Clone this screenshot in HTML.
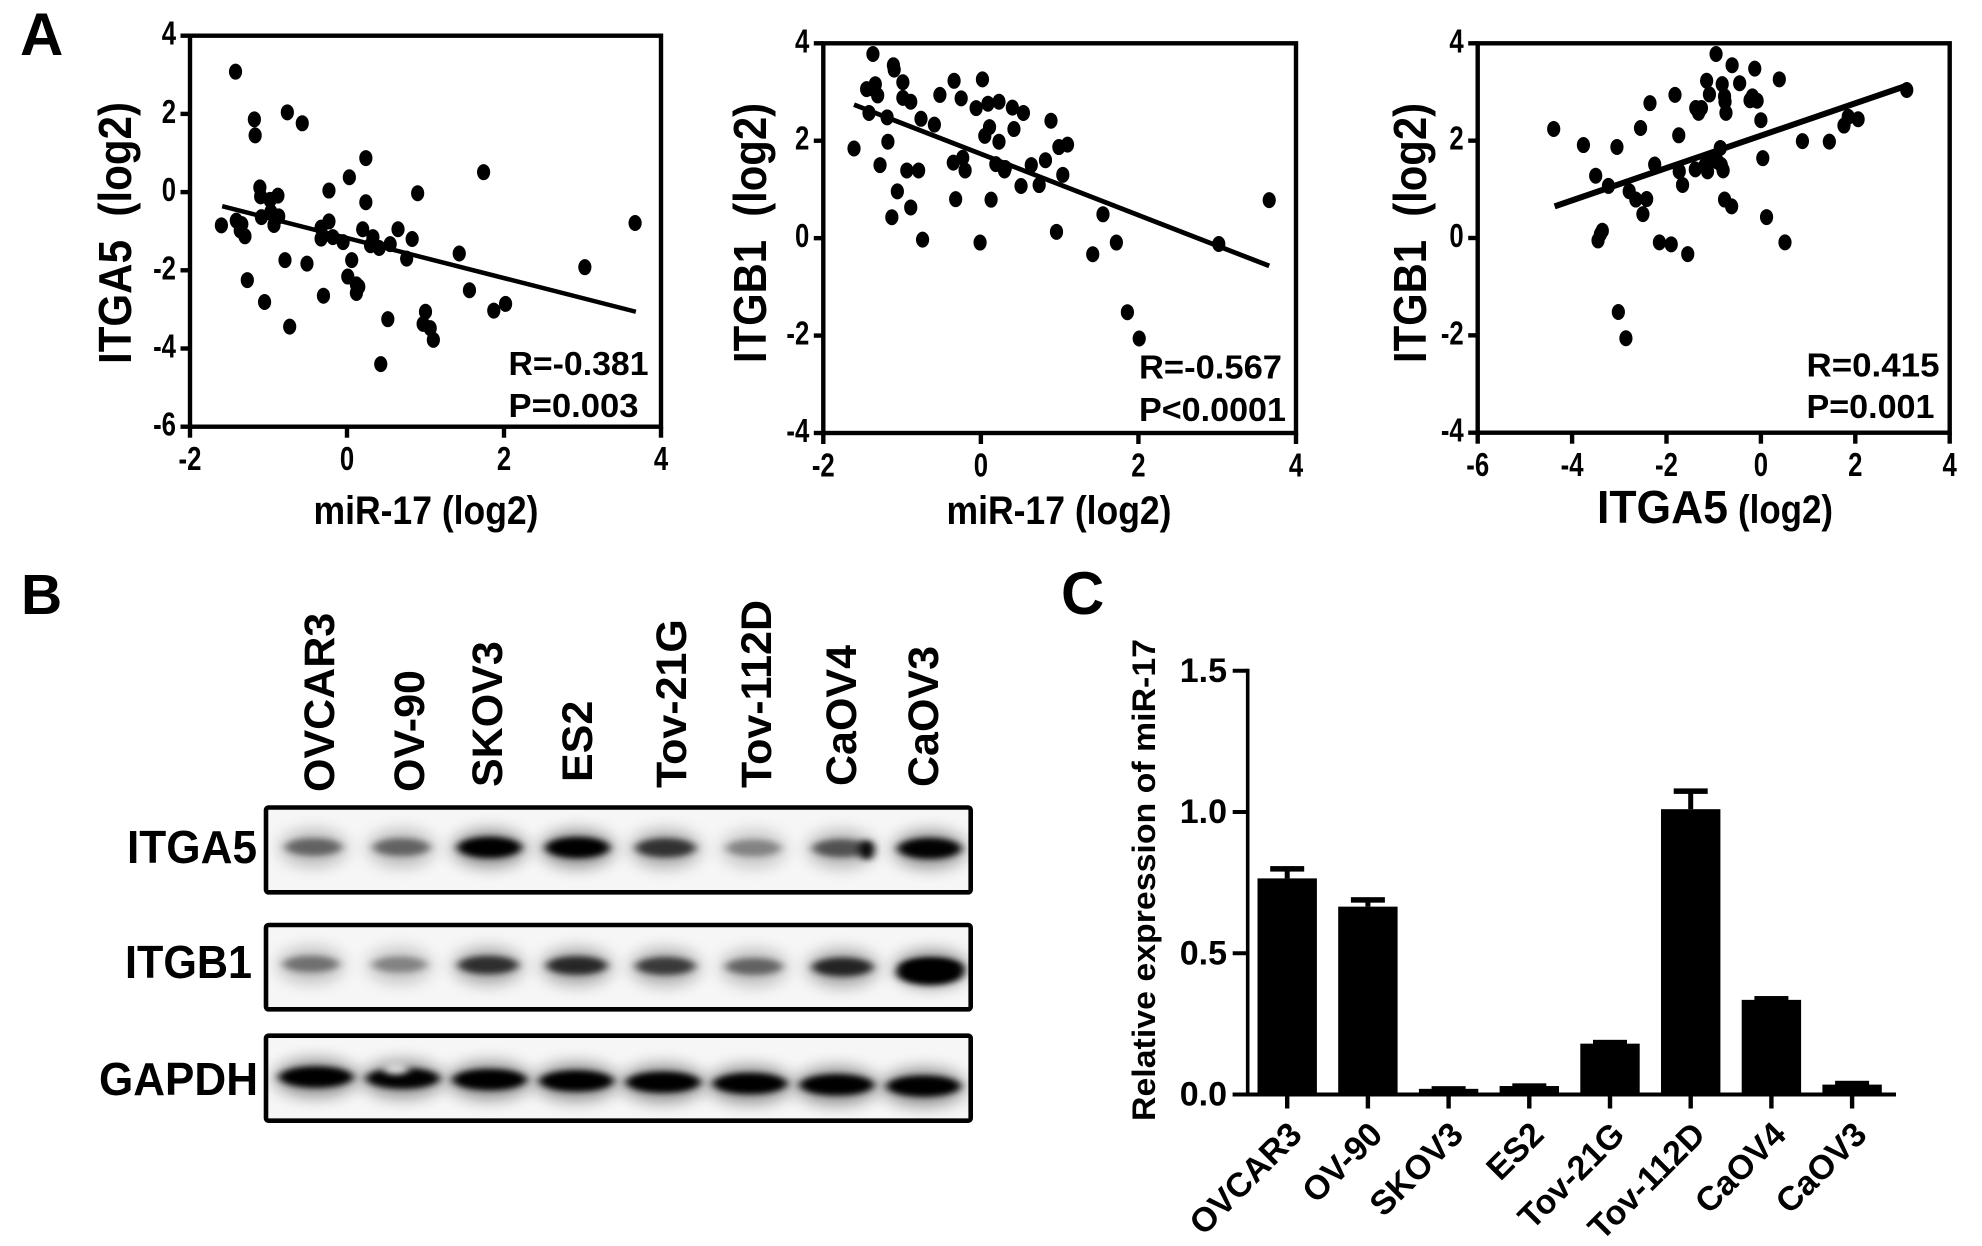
<!DOCTYPE html>
<html lang="en">
<head>
<meta charset="utf-8">
<title>Correlation of miR-17, ITGA5 and ITGB1 in ovarian cancer cell lines</title>
<style>
html,body{margin:0;padding:0;background:#fff;width:1982px;height:1246px;overflow:hidden}
svg{display:block;font-family:"Liberation Sans",Arial,sans-serif;font-weight:bold;fill:#000}
</style>
</head>
<body>
<svg id="fig" width="1982" height="1246" viewBox="0 0 1982 1246" xmlns="http://www.w3.org/2000/svg">
  <defs>
    <filter id="blurCore" x="-50%" y="-100%" width="200%" height="300%"><feGaussianBlur stdDeviation="4.5 3"/></filter>
    <filter id="blurHalo" x="-50%" y="-150%" width="200%" height="400%"><feGaussianBlur stdDeviation="9 8"/></filter>
    <clipPath id="clipA"><rect x="268" y="809" width="701" height="82"/></clipPath>
    <clipPath id="clipB"><rect x="268" y="927" width="701" height="80"/></clipPath>
    <clipPath id="clipC"><rect x="268" y="1038" width="701" height="81"/></clipPath>
  </defs>

  <text x="20" y="55" font-size="60">A</text>
  <text x="21" y="614" font-size="57">B</text>
  <text x="1061" y="614" font-size="60">C</text>

  <g id="scatter1"></g>
  <g id="scatter2"></g>
  <g id="scatter3"></g>

  <text transform="translate(131,233) rotate(-90)" text-anchor="middle" font-size="46" textLength="262" lengthAdjust="spacingAndGlyphs" xml:space="preserve">ITGA5  (log2)</text>
  <text x="426" y="524" text-anchor="middle" font-size="40" textLength="225" lengthAdjust="spacingAndGlyphs">miR-17 (log2)</text>
  <text x="508.5" y="375" font-size="33.5" textLength="140" lengthAdjust="spacingAndGlyphs">R=-0.381</text>
  <text x="508.5" y="417" font-size="33.5" textLength="130" lengthAdjust="spacingAndGlyphs">P=0.003</text>

  <text transform="translate(766,233) rotate(-90)" text-anchor="middle" font-size="46" textLength="260" lengthAdjust="spacingAndGlyphs" xml:space="preserve">ITGB1  (log2)</text>
  <text x="1059" y="524" text-anchor="middle" font-size="40" textLength="225" lengthAdjust="spacingAndGlyphs">miR-17 (log2)</text>
  <text x="1139" y="378.5" font-size="33.5" textLength="143" lengthAdjust="spacingAndGlyphs">R=-0.567</text>
  <text x="1139" y="421" font-size="33.5" textLength="147" lengthAdjust="spacingAndGlyphs">P&lt;0.0001</text>

  <text transform="translate(1426,233) rotate(-90)" text-anchor="middle" font-size="46" textLength="260" lengthAdjust="spacingAndGlyphs" xml:space="preserve">ITGB1  (log2)</text>
  <text x="1597" y="523" font-size="46" textLength="131" lengthAdjust="spacingAndGlyphs">ITGA5</text>
  <text x="1738" y="523" font-size="40" textLength="95" lengthAdjust="spacingAndGlyphs">(log2)</text>
  <text x="1806.5" y="376.7" font-size="33.5" textLength="133" lengthAdjust="spacingAndGlyphs">R=0.415</text>
  <text x="1806.5" y="418" font-size="33.5" textLength="128" lengthAdjust="spacingAndGlyphs">P=0.001</text>

  <g font-size="43">
    <text transform="translate(334,792) rotate(-90)">OVCAR3</text>
    <text transform="translate(424,792) rotate(-90)">OV-90</text>
    <text transform="translate(502,787) rotate(-90)">SKOV3</text>
    <text transform="translate(592,782) rotate(-90)">ES2</text>
    <text transform="translate(686,788) rotate(-90)">Tov-21G</text>
    <text transform="translate(771,788) rotate(-90)">Tov-112D</text>
    <text transform="translate(856,786) rotate(-90)">CaOV4</text>
    <text transform="translate(938,787) rotate(-90)">CaOV3</text>
  </g>

  <g id="blots"></g>
  <text x="127" y="863" font-size="46" textLength="130" lengthAdjust="spacingAndGlyphs">ITGA5</text>
  <text x="125" y="978" font-size="46" textLength="127" lengthAdjust="spacingAndGlyphs">ITGB1</text>
  <text x="99" y="1095" font-size="46" textLength="159" lengthAdjust="spacingAndGlyphs">GAPDH</text>

  <g id="barChart"></g>
  <text transform="translate(1155,880) rotate(-90)" text-anchor="middle" font-size="32" textLength="482" lengthAdjust="spacingAndGlyphs">Relative expression of miR-17</text>
</svg>

<script>
// ---------- Panel A data ----------
const s1X = [-1.42,-1.18,-1.17,-0.76,-0.57,0.24,0.03,-0.23,0.24,0.90,1.74,3.67,3.03,-1.11,-1.10,-0.88,-0.98,-1.09,-0.97,-0.87,-0.93,-1.60,-1.41,-1.34,-1.36,-1.30,-0.79,-0.51,-1.27,-1.05,-0.73,-0.30,-0.33,-0.23,-0.33,-0.18,-0.05,0.20,0.33,0.30,0.41,0.55,0.65,0.83,0.76,0.06,0.01,0.12,0.15,0.12,0.52,0.43,1.00,0.97,1.06,1.10,1.43,1.56,1.87,2.02];
const s1Y = [3.08,1.86,1.45,2.04,1.76,0.87,0.38,0.04,-0.26,-0.03,0.51,-0.79,-1.92,0.12,-0.11,-0.09,-0.20,-0.64,-0.51,-0.62,-0.84,-0.85,-0.73,-0.82,-0.98,-1.13,-1.74,-1.83,-2.25,-2.81,-3.44,-2.65,-0.91,-0.75,-1.19,-1.15,-1.28,-0.95,-1.15,-1.36,-1.43,-1.33,-0.95,-1.20,-1.70,-1.74,-2.16,-2.36,-2.42,-2.58,-3.25,-4.40,-3.06,-3.37,-3.48,-3.78,-1.57,-2.51,-3.03,-2.86];
const s1FitX = [-1.59,3.68];
const s1FitY = [-0.36,-3.06];
const s1XTicks = [-2,0,2,4];
const s1YTicks = [4,2,0,-2,-4,-6];

const s2X = [-1.61,-1.37,-1.45,-1.34,-1.37,-1.31,-1.42,-1.19,-1.18,-1.28,-1.11,-1.10,-0.99,-0.99,-0.89,-0.94,-0.79,-1.06,-1.13,-0.89,-0.74,-0.76,-0.59,-0.52,-0.34,-0.25,-0.35,-0.23,-0.20,-0.32,-0.01,0.02,-0.06,0.09,0.23,0.40,0.54,0.11,0.05,0.42,0.23,0.19,0.30,0.31,0.13,0.51,0.64,0.74,0.82,0.89,0.99,1.10,1.04,0.96,1.55,1.42,1.72,1.86,2.01,3.02,3.66];
const s2Y = [1.84,3.78,3.06,3.16,3.07,2.93,2.57,2.48,1.98,1.50,3.55,3.46,3.20,2.88,2.80,1.39,1.39,0.96,0.43,0.63,-0.03,2.45,2.33,2.94,3.23,2.87,1.55,1.65,1.39,0.80,-0.09,3.26,2.67,2.76,2.80,2.68,2.57,2.28,2.10,2.24,1.98,1.52,1.39,1.44,0.79,1.07,1.50,1.09,1.60,2.41,1.87,1.92,1.30,0.13,0.49,-0.33,-0.09,-1.52,-2.06,-0.12,0.78];
const s2FitX = [-1.61,3.66];
const s2FitY = [2.74,-0.57];
const s2XTicks = [-2,0,2,4];
const s2YTicks = [4,2,0,-2,-4];

const s3X = [-4.39,-3.76,-3.05,-3.50,-3.23,-3.45,-3.36,-3.40,-3.02,-2.86,-2.79,-2.65,-2.42,-2.50,-2.15,-1.90,-1.55,-2.55,-2.35,-2.25,-1.82,-1.74,-1.73,-1.66,-1.38,-1.32,-1.26,-1.15,-1.09,-0.95,-0.61,-0.45,-0.82,-0.77,-0.76,-0.74,-0.13,-0.23,-0.08,-0.18,0.39,0.00,0.04,0.12,0.51,-0.86,-1.39,-1.18,-1.13,-0.92,-0.84,-0.80,-1.09,-0.77,-0.62,0.88,1.45,1.76,1.85,2.06,3.09];
const s3Y = [2.24,1.91,1.87,1.28,1.07,-0.05,0.15,0.08,-1.52,-2.06,0.96,0.79,0.80,0.49,-0.09,-0.13,-0.33,2.26,2.77,1.51,2.94,2.11,1.37,1.09,2.67,2.57,2.67,3.23,2.95,3.78,3.55,3.18,3.16,2.91,2.80,2.57,3.48,2.83,2.82,2.91,3.26,2.42,1.64,0.43,-0.09,1.85,1.41,1.50,1.37,1.57,1.50,1.39,1.60,0.79,0.65,1.99,1.98,2.31,2.49,2.44,3.04];
const s3FitX = [-4.37,3.09];
const s3FitY = [0.65,3.13];
const s3XTicks = [-6,-4,-2,0,2,4];
const s3YTicks = [4,2,0,-2,-4];

// ---------- Panel B data (relative band intensity, 0-1) ----------
const itga5Band = [0.42,0.42,1,1,0.66,0.28,0.50,0.95];
const itgb1Band = [0.36,0.28,0.68,0.72,0.62,0.42,0.74,1];
const gapdhBand = [1,0.95,1,1,1,1,1,1];

// ---------- Panel C data ----------
const cellLines = ["OVCAR3","OV-90","SKOV3","ES2","Tov-21G","Tov-112D","CaOV4","CaOV3"];
const barValues = [0.765,0.665,0.02,0.03,0.18,1.01,0.335,0.035];
const barErrorTop = [0.805,0.695,0.026,0.036,0.19,1.08,0.345,0.045];
const barYTicks = [0,0.5,1.0,1.5];
const barYTickLabels = ["0.0","0.5","1.0","1.5"];

// ---------- Helpers ----------
const NS = 'http://www.w3.org/2000/svg';
function mk(parent, tag, attrs) {
  const el = document.createElementNS(NS, tag);
  for (const k in attrs) el.setAttribute(k, attrs[k]);
  parent.appendChild(el);
  return el;
}
function label(parent, x, y, str, size, anchor, sx, rot) {
  const el = mk(parent, 'text', {
    transform: 'translate(' + x + ',' + y + ') rotate(' + (rot || 0) + ') scale(' + (sx || 1) + ',1)',
    'font-size': size,
    'text-anchor': anchor
  });
  el.textContent = str;
  return el;
}
function line(parent, x1, y1, x2, y2, w) {
  return mk(parent, 'line', { x1: x1, y1: y1, x2: x2, y2: y2, stroke: '#000', 'stroke-width': w });
}

function drawScatter(g, box, xDom, yDom, xs, ys, fitX, fitY, xTicks, yTicks, fitW) {
  const sx = v => box.l + (v - xDom[0]) / (xDom[1] - xDom[0]) * (box.r - box.l);
  const sy = v => box.b - (v - yDom[0]) / (yDom[1] - yDom[0]) * (box.b - box.t);

  const frame = mk(g, 'rect', { x: box.l, y: box.t, width: box.r - box.l, height: box.b - box.t, fill: 'none', stroke: '#000', 'stroke-width': 4.4 });
  
  

  xTicks.forEach(t => {
    const tick = line(g, sx(t), box.b, sx(t), box.b + 11, 4.4);
    
    
    const lab = label(g, sx(t), box.b + 43.5, String(t), 33, 'middle', 0.78);
    
    
  });
  yTicks.forEach(t => {
    const tick = line(g, box.l - 9.5, sy(t), box.l, sy(t), 4.4);
    
    
    const lab = label(g, box.l - 14, sy(t) + 9, String(t), 33, 'end', 0.78);
    
    
  });
  xs.forEach((v, i) => {
    const dot = mk(g, 'ellipse', { cx: sx(v), cy: sy(ys[i]), rx: 6.6, ry: 8, fill: '#000' });
    
    
  });
  const fit = line(g, sx(fitX[0]), sy(fitY[0]), sx(fitX[1]), sy(fitY[1]), fitW);
  
  
}

drawScatter(document.getElementById('scatter1'), { l: 190, r: 661, t: 35.7, b: 426.7 }, [-2, 4], [-6, 4], s1X, s1Y, s1FitX, s1FitY, s1XTicks, s1YTicks, 4.5);
drawScatter(document.getElementById('scatter2'), { l: 823.3, r: 1296, t: 43.3, b: 433 }, [-2, 4], [-4, 4], s2X, s2Y, s2FitX, s2FitY, s2XTicks, s2YTicks, 4.8);
drawScatter(document.getElementById('scatter3'), { l: 1477.7, r: 1949.7, t: 43.3, b: 432.7 }, [-6, 4], [-4, 4], s3X, s3Y, s3FitX, s3FitY, s3XTicks, s3YTicks, 6);

// ---------- Western blots ----------
const blots = document.getElementById('blots');

function drawBlot(row, values) {
  const w = 704.7;
  const h = row.bottom - row.top;
  const bg = mk(blots, 'rect', { x: 266, y: row.top, width: w, height: h, fill: '#f6f6f6' });
  
  
  const layer = mk(blots, 'g', { 'clip-path': 'url(#' + row.clip + ')' });
  values.forEach((v, i) => {
    const cx = row.x0 + i * row.step;
    const cy = row.y0 + i * row.tilt;
    const rx = row.width * (0.82 + 0.18 * v);
    const halo = mk(layer, 'ellipse', { cx: cx, cy: cy + 1, rx: rx + 4, ry: row.ry + 8, fill: '#000', opacity: 0.12 + 0.32 * v, filter: 'url(#blurHalo)' });
    
    
    const core = mk(layer, 'ellipse', { cx: cx, cy: cy, rx: rx, ry: row.ry * (0.7 + 0.3 * v), fill: '#000', opacity: Math.min(1, 0.05 + 0.98 * v), filter: 'url(#blurCore)' });
    
    
  });
  const frame = mk(blots, 'rect', { x: 266, y: row.top, width: w, height: h, rx: 2.5, fill: 'none', stroke: '#000', 'stroke-width': 4.6 });
  
  
  return layer;
}
const rowA = drawBlot({ top: 807.5, bottom: 892.3, clip: 'clipA', x0: 313.5, step: 88, y0: 847, tilt: 0.2, width: 32, ry: 10.5 }, itga5Band);
const rowB = drawBlot({ top: 925, bottom: 1009.3, clip: 'clipB', x0: 311, step: 88.6, y0: 964, tilt: 0.5, width: 32, ry: 10 }, itgb1Band);
const rowC = drawBlot({ top: 1035.7, bottom: 1120.7, clip: 'clipC', x0: 316, step: 86.8, y0: 1077, tilt: 1.3, width: 37, ry: 10.5 }, gapdhBand);

const spotA = mk(rowA, 'ellipse', { cx: 866.7, cy: 850, rx: 7, ry: 10, fill: '#000', filter: 'url(#blurCore)' });


const spotB = mk(rowB, 'ellipse', { cx: 930, cy: 973, rx: 33, ry: 12, fill: '#000', filter: 'url(#blurCore)' });


const notchC = mk(rowC, 'ellipse', { cx: 396, cy: 1069, rx: 13, ry: 6, fill: '#eee', opacity: 0.85, filter: 'url(#blurCore)' });



// ---------- Bar chart ----------
const bar = document.getElementById('barChart');
const barX = i => 1287.2 + i * 80.7;
const barY = v => 1094.5 - v * 282.5;

barValues.forEach((v, i) => {
  const stem = line(bar, barX(i), barY(barErrorTop[i]), barX(i), barY(v), 5);
  
  
  const cap = mk(bar, 'rect', { x: barX(i) - 17, y: barY(barErrorTop[i]) - 1, width: 34, height: 5.5, fill: '#000' });
  
  
  const rect = mk(bar, 'rect', { x: barX(i) - 29.7, y: barY(v), width: 59.4, height: barY(0) - barY(v), fill: '#000' });
  
  
  const tick = line(bar, barX(i), barY(0), barX(i), barY(0) + 14, 4.4);
  
  
  const lab = label(bar, barX(i) + 16.5, barY(0) + 42, cellLines[i], 34, 'end', 1, -45);
  
  
});

const yAxis = line(bar, 1247.7, barY(1.5) - 2, 1247.7, barY(0) + 2, 3.6);


const xAxis = line(bar, 1232.7, barY(0), 1896, barY(0), 4);



barYTicks.forEach((t, i) => {
  const tick = line(bar, 1232.7, barY(t), 1247.7, barY(t), 4);
  
  
  const lab = label(bar, 1227, barY(t) + 11, barYTickLabels[i], 34, 'end', 1);
  
  
});
</script>
</body>
</html>
